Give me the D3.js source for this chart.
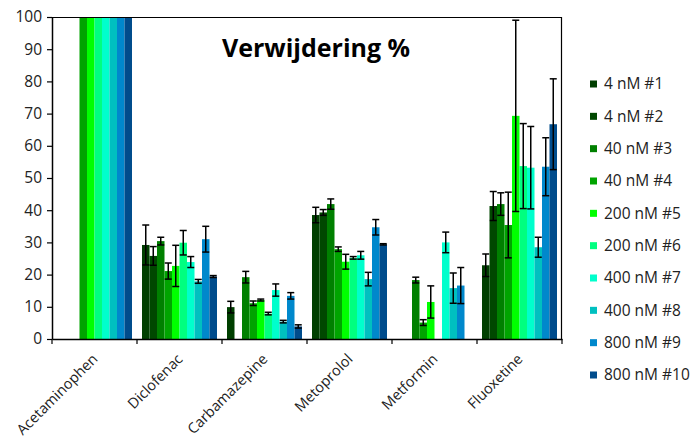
<!DOCTYPE html>
<html>
<head>
<meta charset="utf-8">
<script src="https://cdn.jsdelivr.net/npm/d3@7"></script>
<style>
  html, body { margin: 0; padding: 0; background: #fff; }
  svg { display: block; font-family: "Open Sans", "Liberation Sans", sans-serif; }
</style>
</head>
<body>
<svg id="chart" width="692" height="445"></svg>
<script>
const categories = ["Acetaminophen", "Diclofenac", "Carbamazepine", "Metoprolol", "Metformin", "Fluoxetine"];
const seriesNames = ["4 nM #1", "4 nM #2", "40 nM #3", "40 nM #4", "200 nM #5", "200 nM #6", "400 nM #7", "400 nM #8", "800 nM #9", "800 nM #10"];
const seriesColors = ["#003f00", "#004800", "#008000", "#00a400", "#00ff00", "#00ff80", "#00ffcc", "#00c0c0", "#0088cc", "#004c8c"];

// values per series, in category order (null = no bar)
const s1 = [null, 29.2, 9.9, 38.5, null, 22.9];
const s2 = [null, 25.8, null, 39.3, null, 41.3];
const s3 = [null, 30.4, 19.2, 41.9, 18.3, 41.9];
const s4 = [100, 21.1, 11.1, 27.9, 5.1, 35.4];
const s5 = [100, 22.7, 12.1, 24.0, 11.5, 69.3];
const s6 = [100, 29.9, 7.9, 25.2, null, 53.7];
const s7 = [100, 23.9, 15.2, 26.0, 30.0, 53.2];
const s8 = [100, 17.9, 5.4, 18.6, 15.8, 28.5];
const s9 = [100, 31.0, 13.4, 34.7, 16.6, 53.5];
const s10 = [100, 19.4, 3.9, 29.4, null, 66.7];

// error (± half-range) per series
const e1 = [0, 6.2, 1.8, 2.4, 0, 3.5];
const e2 = [0, 2.9, 0, 0.9, 0, 4.5];
const e3 = [0, 1.2, 1.8, 1.6, 0.9, 3.5];
const e4 = [0, 2.5, 0.7, 0.7, 0.9, 10.2];
const e5 = [0, 6.4, 0.3, 2.3, 5.0, 29.7];
const e6 = [0, 3.8, 0.4, 0.4, 0, 13.2];
const e7 = [0, 1.7, 1.9, 1.2, 3.2, 12.8];
const e8 = [0, 0.6, 0.4, 2.1, 4.7, 3.1];
const e9 = [0, 4.0, 1.0, 2.4, 5.6, 9.0];
const e10 = [0, 0.3, 0.5, 0.2, 0, 14.1];

const yTicks = [0, 10, 20, 30, 40, 50, 60, 70, 80, 90, 100];
const title = "Verwijdering %";

const values = [s1, s2, s3, s4, s5, s6, s7, s8, s9, s10];
const errors = [e1, e2, e3, e4, e5, e6, e7, e8, e9, e10];

const svg = d3.select("#chart");
const pLeft = 52, pRight = 562, pTop = 17, pBottom = 339;

const x0 = d3.scaleBand().domain(categories).range([pLeft, pRight]).padding(0);
const x1 = d3.scaleBand().domain(seriesNames).range([5, x0.bandwidth() - 5]).padding(0);
const y = d3.scaleLinear().domain([0, 100]).range([pBottom, pTop]);

const flat = [];
seriesNames.forEach((s, si) => {
  categories.forEach((c, ci) => {
    const v = values[si][ci];
    if (v !== null && v !== undefined) flat.push({ s, si, c, v, e: errors[si][ci] });
  });
});

// bars
svg.append("g").selectAll("rect").data(flat).join("rect")
  .attr("x", d => x0(d.c) + x1(d.s))
  .attr("y", d => y(d.v))
  .attr("width", x1.bandwidth())
  .attr("height", d => y(0) - y(d.v))
  .attr("fill", d => seriesColors[d.si]);

// error bars
const eb = svg.append("g").attr("stroke", "#000").attr("stroke-width", 1.5).attr("fill", "none");
flat.filter(d => d.e > 0).forEach(d => {
  const cx = x0(d.c) + x1(d.s) + x1.bandwidth() / 2;
  const hw = 3.5;
  const yt = y(Math.min(100, d.v + d.e)), yb = y(Math.max(0, d.v - d.e));
  eb.append("line").attr("x1", cx).attr("x2", cx).attr("y1", yt).attr("y2", yb);
  eb.append("line").attr("x1", cx - hw).attr("x2", cx + hw).attr("y1", yt).attr("y2", yt);
  eb.append("line").attr("x1", cx - hw).attr("x2", cx + hw).attr("y1", yb).attr("y2", yb);
});

// frame top & right
svg.append("line").attr("x1", pLeft).attr("x2", pRight).attr("y1", pTop + 0.5).attr("y2", pTop + 0.5)
  .attr("stroke", "#000").attr("stroke-width", 1.2);
svg.append("line").attr("x1", pRight - 0.5).attr("x2", pRight - 0.5).attr("y1", pTop).attr("y2", pBottom)
  .attr("stroke", "#000").attr("stroke-width", 1.2);

// y axis
const yAxis = svg.append("g").attr("transform", `translate(${pLeft},0)`)
  .call(d3.axisLeft(y).tickValues(yTicks).tickSize(5).tickSizeOuter(0).tickPadding(5));
yAxis.select(".domain").attr("stroke", "#000").attr("stroke-width", 1.5);
yAxis.selectAll(".tick line").attr("stroke", "#000").attr("stroke-width", 1.2);
yAxis.selectAll(".tick text").attr("font-size", 15.5).attr("fill", "#222")
  .attr("font-family", "'Open Sans', sans-serif");

// x axis
const xAxis = svg.append("g").attr("transform", `translate(0,${pBottom})`)
  .call(d3.axisBottom(x0).tickSize(0).tickFormat(""));
xAxis.select(".domain").attr("stroke", "#000").attr("stroke-width", 1.5);
const bounds = categories.map(c => x0(c)).concat([pRight]);
svg.append("g").selectAll("line").data(bounds).join("line")
  .attr("x1", d => d).attr("x2", d => d).attr("y1", pBottom).attr("y2", pBottom + 5)
  .attr("stroke", "#000").attr("stroke-width", 1.2);

svg.append("g").selectAll("text").data(categories).join("text")
  .attr("transform", d => `translate(${x0(d) + x0.bandwidth() / 2 + 4},${pBottom + 21}) rotate(-45)`)
  .attr("text-anchor", "end")
  .attr("font-size", 14.5)
  .attr("fill", "#222")
  .text(d => d);

// title
svg.append("text").attr("x", 316).attr("y", 57).attr("text-anchor", "middle")
  .attr("font-size", 25).attr("font-weight", "bold").attr("fill", "#000").text(title);

// legend
const lg = svg.append("g");
const legY = d3.scalePoint().domain(seriesNames).range([84, 375]);
seriesNames.forEach((s, i) => {
  lg.append("rect").attr("x", 590).attr("y", legY(s) - 3.5).attr("width", 7).attr("height", 7)
    .attr("fill", seriesColors[i]);
  lg.append("text").attr("x", 604).attr("y", legY(s)).attr("dy", "0.35em")
    .attr("font-size", 15.5).attr("fill", "#222").text(s);
});
</script>
</body>
</html>
